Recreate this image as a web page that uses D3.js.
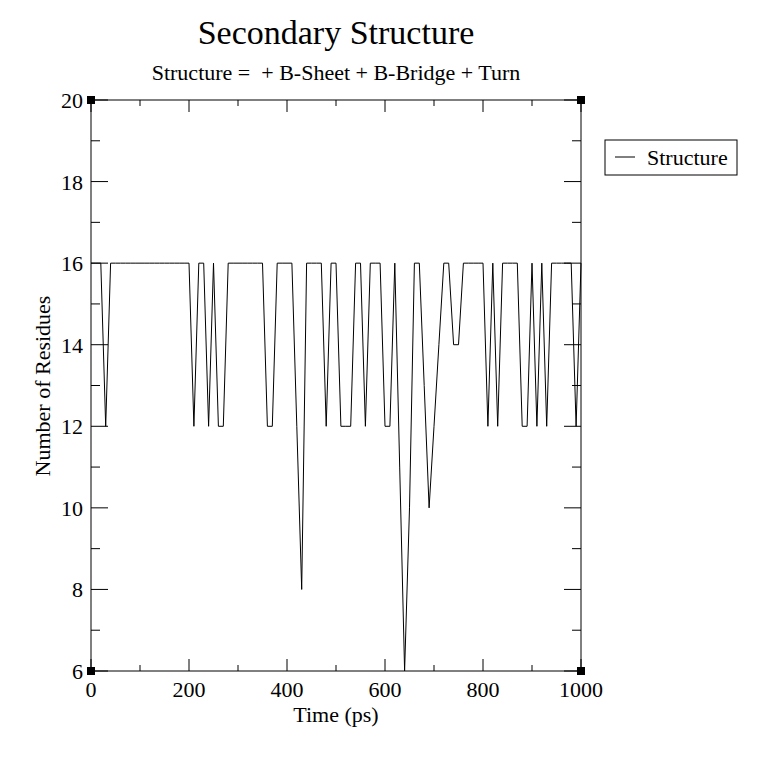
<!DOCTYPE html>
<html><head><meta charset="utf-8">
<script src="https://cdn.jsdelivr.net/npm/d3@7"></script>
<style>body{margin:0;background:#fff}text{font-family:"Liberation Serif","DejaVu Serif",serif}</style>
</head><body><svg id="c" width="766" height="759"></svg>
<script>
const times = d3.range(0, 1001, 10);
const residues = [16,16,16,12,16,16,16,16,16,16, 16,16,16,16,16,16,16,16,16,16,
 16,12,16,16,12,16,12,12,16,16, 16,16,16,16,16,16,12,12,16,16,
 16,16,12,8,16,16,16,16,12,16, 16,12,12,12,16,16,12,16,16,16,
 12,12,16,11,6,10,16,16,13,10, 12,14,16,16,14,14,16,16,16,16,
 16,12,16,12,16,16,16,16,12,12, 16,12,16,12,16,16,16,16,16,12, 16];
const xTicks = [0,200,400,600,800,1000];
const yTicks = [6,8,10,12,14,16,18,20];
const svg = d3.select("#c");
const L=91,R=581,T=100,B=671;
const x = d3.scaleLinear().domain([0,1000]).range([L,R]);
const y = d3.scaleLinear().domain([6,20]).range([B,T]);
svg.append("rect").attr("x",L).attr("y",T).attr("width",R-L).attr("height",B-T).attr("fill","none").attr("stroke","#000");
const g=svg.append("g").attr("stroke","#000");
d3.range(0,1001,100).forEach(v=>{const len=v%200==0?12:6;
 g.append("line").attr("x1",x(v)).attr("x2",x(v)).attr("y1",B).attr("y2",B-len);
 g.append("line").attr("x1",x(v)).attr("x2",x(v)).attr("y1",T).attr("y2",T+len);});
d3.range(6,21,1).forEach(v=>{const len=v%2==0?17:9;
 g.append("line").attr("y1",y(v)).attr("y2",y(v)).attr("x1",L).attr("x2",L+len);
 g.append("line").attr("y1",y(v)).attr("y2",y(v)).attr("x1",R).attr("x2",R-len);});
[[L,T],[R,T],[L,B],[R,B]].forEach(([a,b])=>svg.append("rect").attr("x",a-4).attr("y",b-4).attr("width",8).attr("height",8).attr("fill","#000"));
xTicks.forEach(v=>svg.append("text").attr("x",x(v)).attr("y",B+26).attr("text-anchor","middle").attr("font-size",22).text(v));
yTicks.forEach(v=>svg.append("text").attr("x",L-8).attr("y",y(v)+8).attr("text-anchor","end").attr("font-size",22).text(v));
svg.append("path").datum(times.map((t,i)=>[t,residues[i]])).attr("fill","none").attr("stroke","#000").attr("stroke-width",1)
 .attr("d",d3.line().x(d=>x(d[0])).y(d=>y(d[1])));
svg.append("text").attr("x",336).attr("y",44).attr("text-anchor","middle").attr("font-size",34).text("Secondary Structure");
svg.append("text").attr("x",336).attr("y",80).attr("text-anchor","middle").attr("font-size",22).attr("xml:space","preserve").text("Structure =  + B-Sheet + B-Bridge + Turn");
svg.append("text").attr("x",336).attr("y",722).attr("text-anchor","middle").attr("font-size",22).text("Time (ps)");
svg.append("text").attr("transform","translate(50,386) rotate(-90)").attr("text-anchor","middle").attr("font-size",22).text("Number of Residues");
svg.append("rect").attr("x",605).attr("y",140).attr("width",132).attr("height",35).attr("fill","#fff").attr("stroke","#000");
svg.append("line").attr("x1",615).attr("x2",635).attr("y1",157).attr("y2",157).attr("stroke","#000");
svg.append("text").attr("x",647).attr("y",165).attr("font-size",22).text("Structure");
</script></body></html>
